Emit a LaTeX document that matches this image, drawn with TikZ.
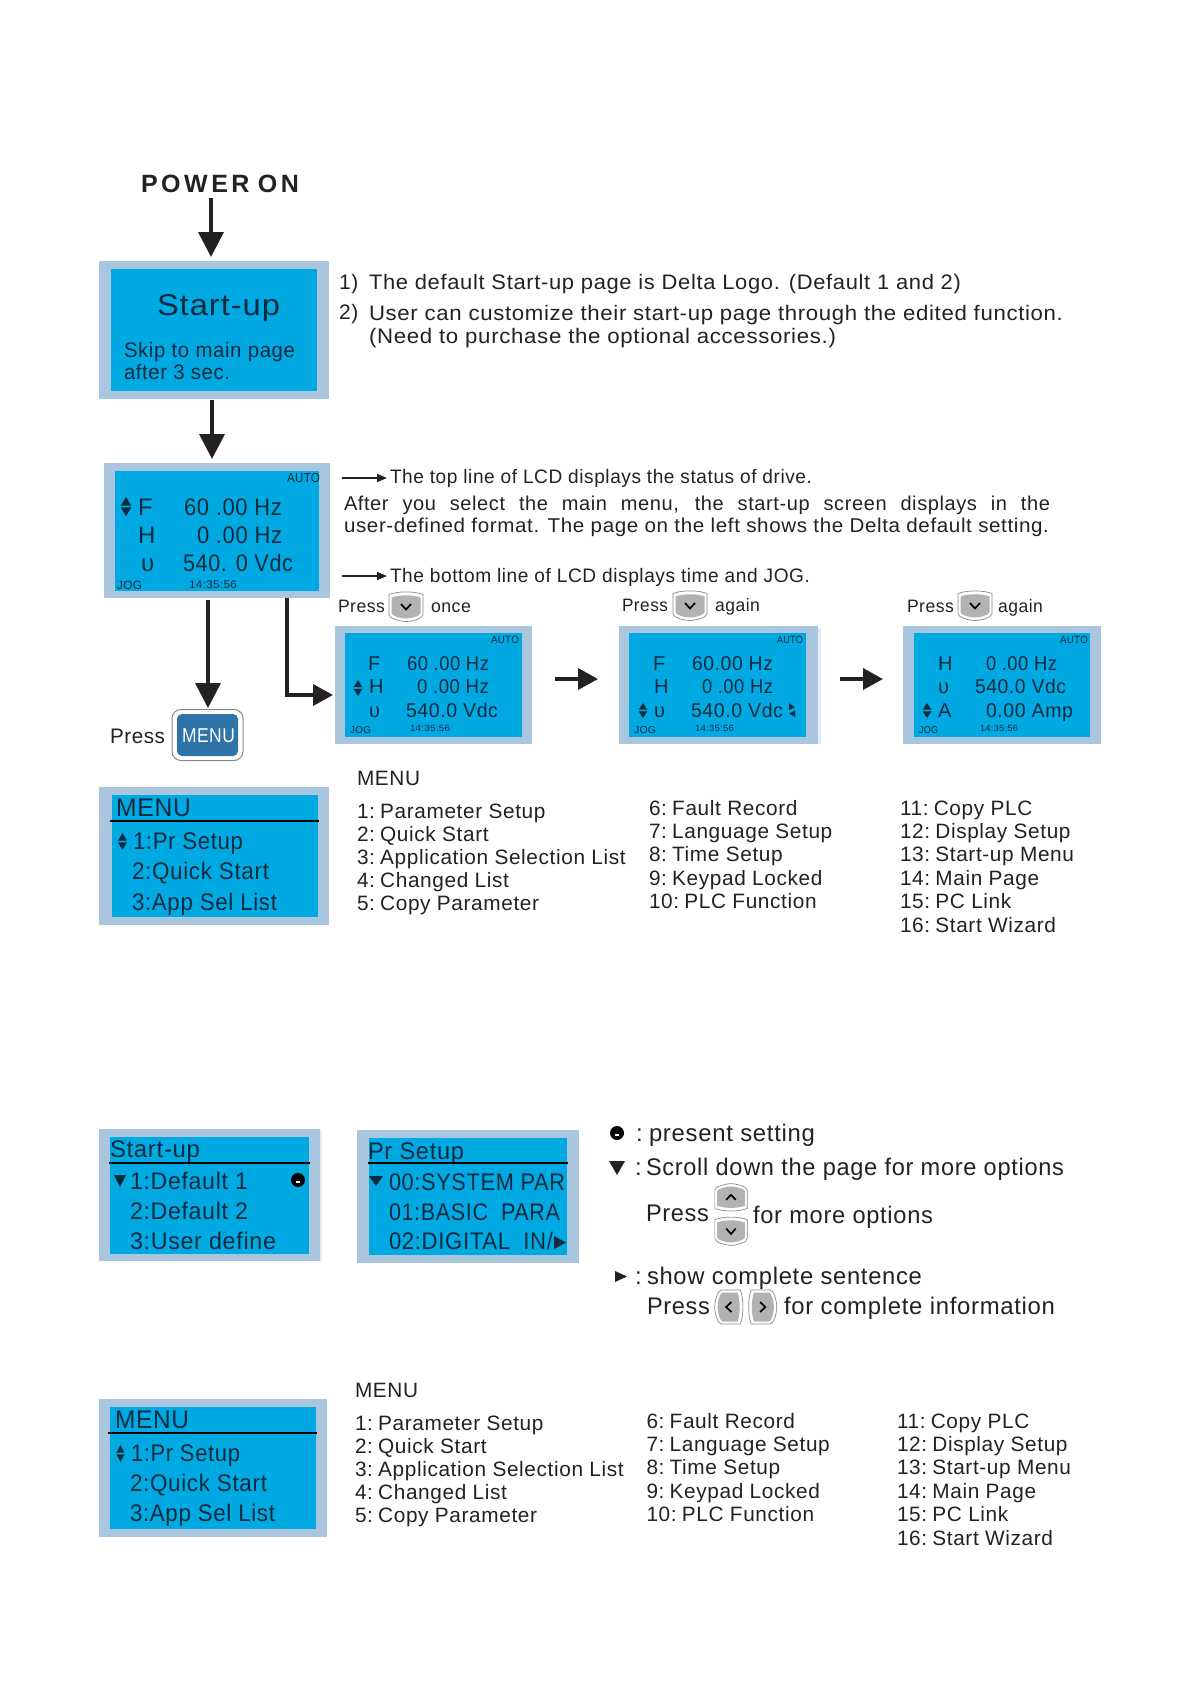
\documentclass[tikz,border=0pt]{standalone}
\usepackage{fontspec}
\usepackage{graphicx}
\setmainfont[LetterSpace=3]{Liberation Sans}
\newfontfamily\pwrfont[LetterSpace=14]{Liberation Sans}
\usetikzlibrary{arrows.meta,fit}
\definecolor{frameblue}{HTML}{A9C6DE}
\definecolor{lcdblue}{HTML}{00A9E2}
\definecolor{ink}{HTML}{222222}
\definecolor{lcdink}{HTML}{0B2A3E}
\definecolor{menublue}{HTML}{2F74A6}
\definecolor{btngray}{HTML}{B2B2B2}
\definecolor{btnedge}{HTML}{8A8A8A}
\newcommand{\nsp}{\hspace{5.2pt}}
\newsavebox\fitbox
\newcommand{\fitw}[2]{\sbox\fitbox{#2}\pgfmathsetmacro\fitscale{#1/\the\wd\fitbox}\scalebox{\fitscale}[1]{\usebox\fitbox}}
% [style]{name}{x}{y}{size}{width}{text}
\newcommand{\mtf}[7][]{\node[txt,#1] (#2) at (#3,#4) {\fontsize{#5}{#5}\selectfont\fitw{#6}{#7}};}
% [style]{name}{x}{y}{size}{text}
\newcommand{\mtn}[6][]{\node[txt,#1] (#2) at (#3,#4) {\fontsize{#5}{#5}\selectfont #6};}
% name, outer x1 y1 x2 y2, inner x1 y1 x2 y2
\newcommand{\panel}[9]{\node[frame,fit={(#2,#3)(#4,#5)}] (#1) {};\panelin{#6}{#7}{#8}{#9}}
\newcommand{\panelin}[4]{\fill[lcdblue] (#1,#2) rectangle (#3,#4);}
% cx ytop ybot halfwidth
\newcommand{\updown}[4]{\pgfmathsetmacro\udm{(#2+#3)/2}
  \fill[lcdink] (#1,#2) -- (#1+#4,\udm-0.8) -- (#1-#4,\udm-0.8) -- cycle;
  \fill[lcdink] (#1,#3) -- (#1+#4,\udm+0.8) -- (#1-#4,\udm+0.8) -- cycle;}
% cx cy rotate xscale yscale
\newcommand{\keybtn}[5]{\begin{scope}[shift={(#1,#2)},rotate=#3,xscale=#4,yscale=#5]
  \draw[btnedge,fill=white,line width=.7] (-17,-12) .. controls (-8,-15.5) and (8,-15.5) .. (17,-12) -- (17,8) .. controls (17,12) and (6,15) .. (0,15) .. controls (-6,15) and (-17,12) .. (-17,8) -- cycle;
  \fill[btngray] (-14.5,-9) .. controls (-6,-12) and (6,-12) .. (14.5,-9) -- (14.5,7) .. controls (13,10) and (5,12) .. (0,12) .. controls (-5,12) and (-13,10) .. (-14.5,7) -- cycle;
  \draw[black,line width=1.7] (-5,-2.5) -- (0,3) -- (5,-2.5);
\end{scope}}
% cx cy r
\newcommand{\smiley}[3]{\fill[black] (#1,#2) circle (#3);
  \fill[white] (#1-1.8,#2+1.4) rectangle (#1+1.8,#2+3.4);}
\newcommand{\menulist}[9]{%
  \mtn{#1h}{#2}{#3}{20.8}{MENU}
  \foreach \i/\lb in {0/1:\nsp Parameter Setup,1/2:\nsp Quick Start,2/3:\nsp Application Selection List,3/4:\nsp Changed List,4/5:\nsp Copy Parameter}
    {\pgfmathsetmacro\yy{#4+23*\i}\mtn{#1a\i}{#2}{\yy}{20.8}{\lb}}
  \foreach \i/\lb in {0/6:\nsp Fault Record,1/7:\nsp Language Setup,2/8:\nsp Time Setup,3/9:\nsp Keypad Locked,4/10:\nsp PLC Function}
    {\pgfmathsetmacro\yy{#6+23.4*\i}\mtn{#1b\i}{#5}{\yy}{20.8}{\lb}}
  \foreach \i/\lb in {0/11:\nsp Copy PLC,1/12:\nsp Display Setup,2/13:\nsp Start-up Menu,3/14:\nsp Main Page,4/15:\nsp PC Link,5/16:\nsp Start Wizard}
    {\pgfmathsetmacro\yy{#8+23.4*\i}\mtn{#1c\i}{#7}{\yy}{20.8}{\lb}}}
\tikzset{
  txt/.style={inner sep=0pt,outer sep=0pt,anchor=base west,text=ink},
  lcdtxt/.style={text=lcdink},
  frame/.style={fill=frameblue,inner sep=0pt,outer sep=0pt,draw=none},
  fatarrow/.style={draw=ink,line width=3.6pt,-{Triangle[length=25pt,width=25pt]}},
  sidearrow/.style={draw=ink,line width=3.6pt,-{Triangle[length=20pt,width=21pt]}},
  thinarrow/.style={draw=ink,line width=1.4pt,shorten >=3pt,-{Triangle[length=10pt,width=8pt]}},
  hairrule/.style={draw=black,line width=1.8pt},
}
\begin{document}
\begin{tikzpicture}[x=1pt,y=-1pt]
\useasboundingbox (0,0) rectangle (1190,1684);
\fill[white] (0,0) rectangle (1190,1684);

% Power on and start-up
\node[txt] (power) at (141,192) {\fontsize{25}{25}\selectfont\pwrfont\bfseries\fitw{158}{POWER\hspace{-2pt} ON}};
\panel{startup}{99}{261}{329}{399}{111}{269}{317}{391}
\mtf[lcdtxt]{suttl}{157}{315}{30}{123}{Start-up}
\mtf[lcdtxt]{suskip}{124}{357}{21}{171}{Skip to main page}
\mtf[lcdtxt]{suafter}{124}{379}{21}{106}{after 3 sec.}
\mtn{numA}{339}{289}{21}{1)}
\mtf{noteA}{369}{289}{21}{592}{The default Start-up page is Delta Logo. (Default 1 and 2)}
\mtn{numB}{339}{319}{21}{2)}
\mtf{noteB}{369}{320}{21}{694}{User can customize their start-up page through the edited function.}
\mtf{noteC}{369}{343}{21}{467}{(Need to purchase the optional accessories.)}

% Main LCD
\panel{lcdA}{104}{463}{330}{598}{115}{471}{319}{591}
\mtf[lcdtxt]{aauto}{287}{482}{13}{33}{AUTO}
\updown{126}{497}{516}{5.3}
\mtn[lcdtxt]{aF}{138}{515}{24}{F}
\mtf[lcdtxt]{aFv}{184}{515}{24}{98}{60 .00 Hz}
\mtn[lcdtxt]{aH}{138}{543}{24}{H}
\mtf[lcdtxt]{aHv}{197}{543}{24}{85}{0 .00 Hz}
\mtn[lcdtxt]{aU}{141}{571}{24}{υ}
\mtf[lcdtxt]{aUv}{183}{571}{24}{110}{540. 0 Vdc}
\mtf[lcdtxt]{ajog}{117}{589}{12}{25}{JOG}
\mtf[lcdtxt]{atime}{189}{588}{11}{48}{14:35:56}

\mtf{topline}{390}{483}{19.5}{422}{The top line of LCD displays the status of drive.}
\node[txt] (after) at (344,510) {\fontsize{20}{20}\selectfont\makebox[706pt][s]{After you select the main menu, the start-up screen displays in the}};
\mtf{userdef}{344}{532}{20}{705}{user-defined format. The page on the left shows the Delta default setting.}
\mtf{botline}{390}{582}{19.5}{420}{The bottom line of LCD displays time and JOG.}
\coordinate (tstart) at (342,478);
\coordinate (bstart) at (342,576);

% Press row
\mtf{prA}{338}{612}{18}{47}{Press}
\keybtn{406}{606.5}{0}{1}{1}
\mtf{onceA}{431}{612}{18}{40}{once}
\mtf{prB}{622}{611}{18}{46}{Press}
\keybtn{690}{605.5}{0}{1}{1}
\mtf{againB}{715}{611}{18}{45}{again}
\mtf{prC}{907}{612}{18}{47}{Press}
\keybtn{975}{605.5}{0}{1}{1}
\mtf{againC}{998}{612}{18}{45}{again}

% Small LCD B
\panel{lcdB}{335}{626}{532}{744}{345}{633}{522}{737}
\mtf[lcdtxt]{bauto}{491}{643}{10.5}{28}{AUTO}
\mtn[lcdtxt]{bF}{368}{670}{20}{F}
\mtf[lcdtxt]{bFv}{407}{670}{20}{82}{60 .00 Hz}
\updown{358}{680}{696}{4.3}
\mtn[lcdtxt]{bH}{369}{693}{20}{H}
\mtf[lcdtxt]{bHv}{417}{693}{20}{72}{0 .00 Hz}
\mtn[lcdtxt]{bU}{369}{717}{20}{υ}
\mtf[lcdtxt]{bUv}{406}{717}{20}{92}{540.0 Vdc}
\mtf[lcdtxt]{bjog}{350}{733}{10}{21}{JOG}
\mtf[lcdtxt]{btime}{410}{731}{9}{40}{14:35:56}

% Small LCD C
\fill[frameblue!35] (818,628) rectangle (820.5,744);
\panel{lcdC}{619}{626}{818}{744}{629}{633}{806}{737}
\mtf[lcdtxt]{cauto}{777}{643}{10.5}{26}{AUTO}
\mtn[lcdtxt]{cF}{653}{670}{20}{F}
\mtf[lcdtxt]{cFv}{692}{670}{20}{81}{60.00 Hz}
\mtn[lcdtxt]{cH}{654}{693}{20}{H}
\mtf[lcdtxt]{cHv}{702}{693}{20}{71}{0 .00 Hz}
\updown{643}{703}{718}{4.3}
\mtn[lcdtxt]{cU}{654}{717}{20}{υ}
\mtf[lcdtxt]{cUv}{691}{717}{20}{92}{540.0 Vdc}
\fill[lcdink] (789,703) -- (795,707.5) -- (789,710) -- cycle;
\fill[lcdink] (795,710.5) -- (789,713.5) -- (795,717) -- cycle;
\mtf[lcdtxt]{cjog}{634}{733}{10}{22}{JOG}
\mtf[lcdtxt]{ctime}{695}{731}{9}{39}{14:35:56}

% Small LCD D
\panel{lcdD}{903}{626}{1101}{744}{914}{633}{1090}{737}
\mtf[lcdtxt]{dauto}{1060}{643}{10.5}{28}{AUTO}
\mtn[lcdtxt]{dH}{938}{670}{20}{H}
\mtf[lcdtxt]{dHv}{986}{670}{20}{71}{0 .00 Hz}
\mtn[lcdtxt]{dU}{938}{693}{20}{υ}
\mtf[lcdtxt]{dUv}{975}{693}{20}{91}{540.0 Vdc}
\updown{927}{703}{718}{4.3}
\mtn[lcdtxt]{dA}{938}{717}{20}{A}
\mtf[lcdtxt]{dAv}{986}{717}{20}{87}{0.00 Amp}
\mtf[lcdtxt]{djog}{919}{733}{10}{19}{JOG}
\mtf[lcdtxt]{dtime}{980}{731}{9}{38}{14:35:56}

% MENU key
\mtf{prM}{110}{743}{21}{55}{Press}
\node[draw=btnedge,fill=white,line width=1pt,rounded corners=9pt,inner sep=0pt,fit={(172,709.5)(243,760.5)}] (menuB) {};
\fill[menublue,rounded corners=5pt] (177,714) rectangle (238,756);
\mtf[text=white]{menuL}{182}{742}{20}{53}{MENU}

% Menu LCD 1
\panel{menuA}{99}{787}{329}{925}{112}{795}{318}{917}
\mtf[lcdtxt]{mattl}{116}{816}{25.5}{75}{MENU}
\draw[hairrule] (110,821) -- (319,821);
\updown{122.5}{833}{850}{4.5}
\mtf[lcdtxt]{ma1}{133}{849}{24}{110}{1:Pr Setup}
\mtf[lcdtxt]{ma2}{132}{879}{24}{137}{2:Quick Start}
\mtf[lcdtxt]{ma3}{132}{910}{24}{145}{3:App Sel List}
\menulist{la}{357}{785}{818}{649}{815}{900}{815}{}

% Start-up LCD
\fill[frameblue!35] (320,1131) rectangle (322,1261);
\panel{suB}{99}{1129}{320}{1261}{110}{1137}{309}{1254}
\mtf[lcdtxt]{subt}{110}{1157}{24}{90}{Start-up}
\draw[hairrule] (109,1163) -- (310,1163);
\fill[lcdink] (114,1175) -- (126,1175) -- (120,1187) -- cycle;
\mtf[lcdtxt]{su1}{130}{1189}{24}{118}{1:Default 1}
\smiley{298}{1180}{7}
\mtf[lcdtxt]{su2}{130}{1219}{24}{118}{2:Default 2}
\mtf[lcdtxt]{su3}{130}{1249}{24}{146}{3:User define}

% Pr setup LCD
\panel{prS}{357}{1130}{579}{1263}{369}{1138}{567}{1255}
\mtf[lcdtxt]{prt}{368}{1159}{24}{96}{Pr Setup}
\draw[hairrule] (368,1163) -- (568,1163);
\fill[lcdink] (369,1176) -- (383,1176) -- (376,1186) -- cycle;
\mtf[lcdtxt]{pr0}{389}{1190}{24}{176}{00:SYSTEM PAR}
\mtf[lcdtxt]{pr1}{389}{1220}{24}{171}{01:BASIC\hspace{7pt} PARA}
\mtf[lcdtxt]{pr2}{389}{1249}{24}{164}{02:DIGITAL\hspace{7pt} IN/}
\fill[lcdink] (554,1236) -- (566,1242.5) -- (554,1249) -- cycle;

% Legend
\smiley{617}{1133}{7}
\mtn{lgc1}{636}{1141}{24}{:}
\mtf{lg1}{649}{1141}{24}{166}{present setting}
\fill[ink] (609,1161) -- (625,1161) -- (617,1175) -- cycle;
\mtn{lgc2}{635}{1175}{24}{:}
\mtf{lg2}{646}{1175}{24}{418}{Scroll down the page for more options}
\mtf{lgp}{646}{1221}{24}{63}{Press}
\keybtn{731}{1197.5}{180}{.95}{.92}
\keybtn{731}{1231}{0}{.95}{.95}
\mtf{lgm}{753}{1223}{24}{180}{for more options}
\fill[ink] (615,1271) -- (627,1276.5) -- (615,1282) -- cycle;
\mtn{lgc3}{635}{1284}{24}{:}
\mtf{lg3}{647}{1284}{24}{275}{show complete sentence}
\mtf{lgq}{647}{1314}{24}{63}{Press}
\keybtn{729}{1307}{-90}{1}{.95}
\keybtn{762.5}{1307}{90}{1}{.95}
\mtf{lgi}{784}{1314}{24}{271}{for complete information}

% Menu LCD 2
\panel{menuC}{99}{1399}{327}{1537}{110}{1407}{316}{1529}
\mtf[lcdtxt]{mcttl}{115}{1428}{25.5}{74}{MENU}
\draw[hairrule] (108,1433) -- (317,1433);
\updown{120.5}{1445}{1462}{4}
\mtf[lcdtxt]{mc1}{131}{1461}{24}{109}{1:Pr Setup}
\mtf[lcdtxt]{mc2}{130}{1491}{24}{137}{2:Quick Start}
\mtf[lcdtxt]{mc3}{130}{1521}{24}{145}{3:App Sel List}
\menulist{lb}{355}{1397}{1430}{646.5}{1428}{897}{1428}{}

% Connectors
\draw[fatarrow] ([xshift=-9pt,yshift=-6pt]power.south) -- ([xshift=-3pt,yshift=4pt]startup.north);
\draw[fatarrow] ([xshift=-2pt,yshift=-1pt]startup.south) -- ([xshift=-5pt,yshift=4pt]lcdA.north);
\draw[fatarrow] ([xshift=-9pt,yshift=-2pt]lcdA.south) -- ([xshift=.5pt,yshift=1pt]menuB.north);
\draw[sidearrow] ([xshift=70pt,yshift=0pt]lcdA.south) |- ([xshift=-2pt,yshift=-10pt]lcdB.west);
\draw[sidearrow] ([xshift=23pt,yshift=6pt]lcdB.east) -- ([xshift=-21pt,yshift=6pt]lcdC.west);
\draw[sidearrow] ([xshift=22pt,yshift=6pt]lcdC.east) -- ([xshift=-20pt,yshift=6pt]lcdD.west);
\draw[thinarrow] (tstart) -- (topline.west |- tstart);
\draw[thinarrow] (bstart) -- (botline.west |- bstart);
\end{tikzpicture}
\end{document}
